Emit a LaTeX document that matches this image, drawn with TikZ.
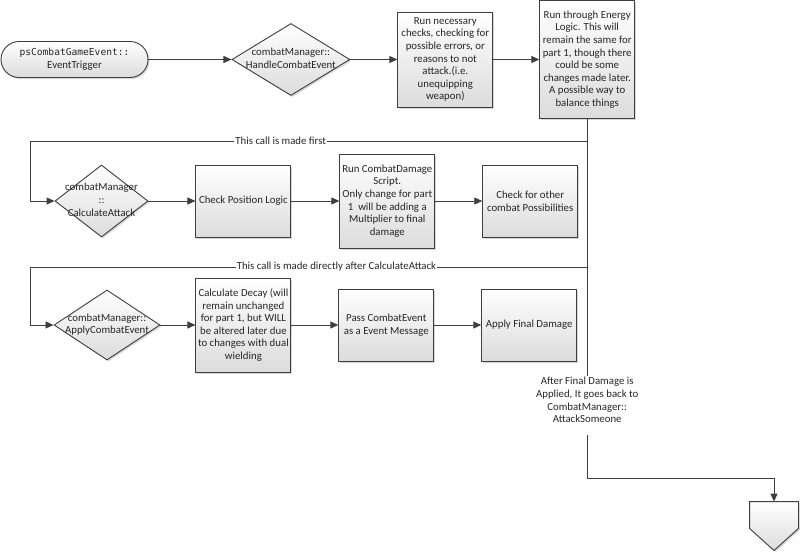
\documentclass[tikz,border=0pt]{standalone}
\usepackage{fontspec}
\setmainfont{Carlito}
\newfontfamily\codefont{DejaVu Sans Mono}
\usepackage{tikz}
\usetikzlibrary{shapes.geometric,arrows.meta,positioning,shadows,calc}
\definecolor{mylinegray}{RGB}{62,62,62}
\definecolor{myfillgray}{RGB}{220,220,220}
\newcommand{\dtext}[1]{\makebox[0pt]{\begin{tabular}{@{}c@{}}#1\end{tabular}}}

\begin{document}
\begin{tikzpicture}[
  x=1pt, y=-1pt,
  font=\fontsize{10.8}{12.6}\selectfont,
  text=black!85,
  line width=0.9pt,
  draw=mylinegray,
  >={Triangle[length=8pt,width=7pt]},
  myshade/.style={
    draw=mylinegray,
    top color=white,
    bottom color=myfillgray,
    drop shadow={shadow xshift=1.5pt, shadow yshift=-1.5pt, fill=black!35, opacity=0.45}
    },
  mybox/.style={
    myshade,
    rectangle,
    align=center,
    inner sep=2pt,
    minimum width=95pt,
    minimum height=#1
    },
  mydiamond/.style 2 args={
    myshade,
    diamond,
    inner sep=0pt,
    minimum width=#1,
    minimum height=#2
    },
  myterm/.style={
    myshade,
    rectangle,
    rounded corners=18pt,
    align=center,
    inner sep=2pt,
    minimum width=147pt,
    minimum height=36pt
    },
  mynote/.style={
    fill=white,
    inner sep=1pt
    }
]
\useasboundingbox (0,0) rectangle (800,552);

\node[myterm] (trigger) at (74.5,59.5)
  {{\codefont\fontsize{9.6}{12.6}\selectfont psCombatGameEvent::}\\EventTrigger};
\node[mydiamond={118pt}{72pt}, right=83pt of trigger] (handle)
  {\dtext{combatManager::\\HandleCombatEvent}};
\node[mybox=95pt, right=47pt of handle] (checks)
  {Run necessary\\checks, checking for\\possible errors, or\\reasons to not\\attack.(i.e.\\unequipping\\weapon)};
\node[mybox=118pt, right=46pt of checks] (energy)
  {Run through Energy\\Logic. This will\\remain the same for\\part 1, though there\\could be some\\changes made later.\\A possible way to\\balance things};

\node[mydiamond={93pt}{72pt}] (calcattack) at (101.5,201)
  {\dtext{combatManager\\::\\CalculateAttack}};
\node[mybox=72pt, right=47pt of calcattack] (position) {Check Position Logic};
\node[mybox=94pt, right=48pt of position] (damage)
  {Run CombatDamage\\Script.\\Only change for part\\1\ \ will be adding a\\Multiplier to final\\damage};
\node[mybox=72pt, right=47pt of damage] (possible) {Check for other\\combat Possibilities};

\node[mydiamond={106pt}{70pt}] (applyevent) at (107,325)
  {\dtext{combatManager::\\ApplyCombatEvent}};
\node[mybox=94pt, right=35pt of applyevent] (decay)
  {Calculate Decay (will\\remain unchanged\\for part 1, but WILL\\be altered later due\\to changes with dual\\wielding};
\node[mybox=72pt, right=47pt of decay] (passevent) {Pass CombatEvent\\as a Event Message};
\node[mybox=72pt, right=47pt of passevent] (finaldamage) {Apply Final Damage};

\node[align=center, inner sep=1pt] (backnote) at (energy.south |- 0,400)
  {After Final Damage is\\Applied, It goes back to\\CombatManager::\\AttackSomeone};
\node[minimum width=48pt, minimum height=48pt, inner sep=0pt] (offpage) at (774,526) {};
\draw[myshade] (offpage.north west) -- (offpage.north east) -- ([yshift=22pt]offpage.south east)
  -- (offpage.south) -- ([yshift=22pt]offpage.south west) -- cycle;

\coordinate (split1) at (energy.south |- 0,141);
\coordinate (split2) at (energy.south |- 0,267);
\coordinate (left1) at (30,141);
\coordinate (left2) at (30,267);
\coordinate (turn) at (energy.south |- 0,478);

\draw[->] (trigger) -- (handle);
\draw[->] (handle) -- (checks);
\draw[->] (checks) -- (energy);
\draw (energy.south) -- (backnote.north);
\draw[->] ([yshift=-11pt]backnote.south) -- (turn) -| (offpage.north);

\draw[->] (split1) -- node[mynote, pos=0.55] {This call is made first} (left1) |- (calcattack);
\draw[->] (calcattack) -- (position);
\draw[->] (position) -- (damage);
\draw[->] (damage) -- (possible);

\draw[->] (split2) -- node[mynote, pos=0.45] {This call is made directly after CalculateAttack} (left2) |- (applyevent);
\draw[->] (applyevent) -- (decay);
\draw[->] (decay) -- (passevent);
\draw[->] (passevent) -- (finaldamage);
\end{tikzpicture}
\end{document}
